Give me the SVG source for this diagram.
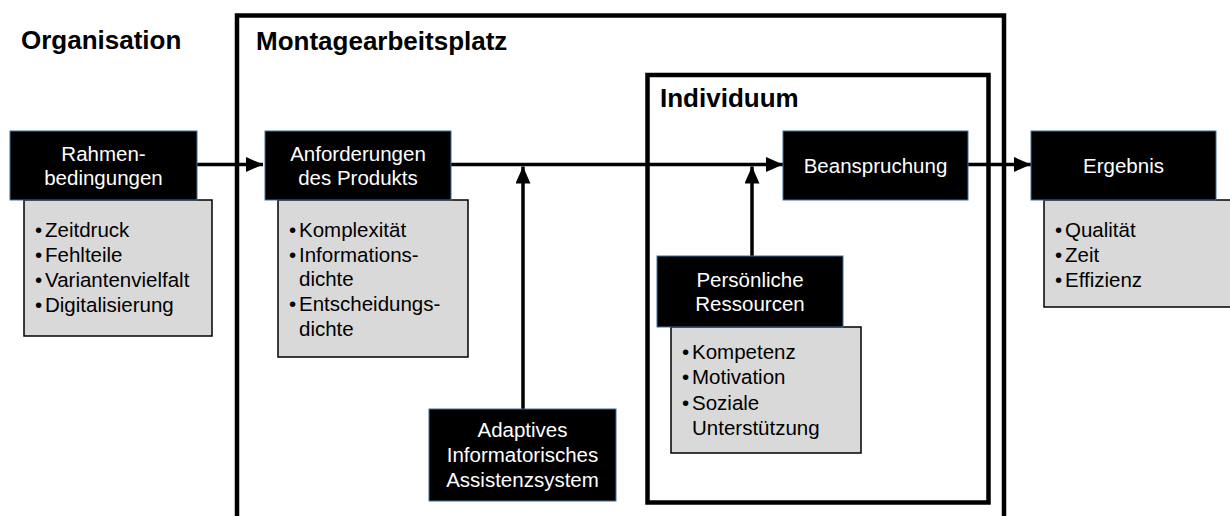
<svg xmlns="http://www.w3.org/2000/svg" width="1230" height="516" viewBox="0 0 1230 516">
<style>
text{font-family:"Liberation Sans",Arial,sans-serif;}
.title{font-size:26px;font-weight:bold;fill:#000;}
.frame{fill:none;stroke:#000;stroke-width:4.5;}
.hd{fill:#000;stroke:#41719C;stroke-width:1;}
.hdt{font-size:20.5px;fill:#fff;text-anchor:middle;}
.gr{fill:#d9d9d9;stroke:#000;stroke-width:1.5;}
.bt{font-size:20.5px;fill:#000;}
.con{fill:none;stroke:#000;stroke-width:3.5;marker-end:url(#ah);}
</style>
<defs>
<marker id="ah" viewBox="0 0 17 15" refX="17" refY="7.5" markerWidth="17" markerHeight="15" markerUnits="userSpaceOnUse" orient="auto">
<path d="M0,0 L17,7.5 L0,15 z" fill="#000"/>
</marker>
</defs>
<rect width="1230" height="516" fill="#fff"/>

<g id="organisation">
<text class="title" x="21" y="49">Organisation</text>
</g>

<g id="montagearbeitsplatz">
<rect class="frame" x="237" y="15.5" width="767" height="520"/>
<text class="title" x="256" y="50">Montagearbeitsplatz</text>
</g>

<g id="individuum">
<rect class="frame" x="647.5" y="75" width="341" height="427.5"/>
<text class="title" x="660" y="107">Individuum</text>
</g>

<g id="connectors">
<path class="con" d="M197,164.5 H263"/>
<path class="con" d="M451,164.5 H783"/>
<path class="con" d="M968,164.5 H1031"/>
<path class="con" d="M523,409 V166.5"/>
<path class="con" d="M752,256 V166.5"/>
</g>

<g id="rahmenbedingungen">
<rect class="gr" x="24" y="200" width="188" height="136"/>
<rect class="hd" x="10" y="131" width="187" height="69"/>
<text class="hdt" x="103.5" y="160.5">Rahmen-</text>
<text class="hdt" x="103.5" y="184.5">bedingungen</text>
<text class="bt" x="35" y="236.5">•</text>
<text class="bt" x="45" y="236.5">Zeitdruck</text>
<text class="bt" x="35" y="261.5">•</text>
<text class="bt" x="45" y="261.5">Fehlteile</text>
<text class="bt" x="35" y="287">•</text>
<text class="bt" x="45" y="287">Variantenvielfalt</text>
<text class="bt" x="35" y="312">•</text>
<text class="bt" x="45" y="312">Digitalisierung</text>
</g>

<g id="anforderungen">
<rect class="gr" x="278" y="200" width="190" height="157"/>
<rect class="hd" x="265" y="131" width="186" height="69"/>
<text class="hdt" x="358" y="160.5">Anforderungen</text>
<text class="hdt" x="358" y="184.5">des Produkts</text>
<text class="bt" x="289" y="236.5">•</text>
<text class="bt" x="299" y="236.5">Komplexität</text>
<text class="bt" x="289" y="261.5">•</text>
<text class="bt" x="299" y="261.5">Informations-</text>
<text class="bt" x="299" y="286">dichte</text>
<text class="bt" x="289" y="311">•</text>
<text class="bt" x="299" y="311">Entscheidungs-</text>
<text class="bt" x="299" y="335.5">dichte</text>
</g>

<g id="assistenzsystem">
<rect class="hd" x="429" y="409" width="187" height="92"/>
<text class="hdt" x="522.5" y="437">Adaptives</text>
<text class="hdt" x="522.5" y="462">Informatorisches</text>
<text class="hdt" x="522.5" y="487">Assistenzsystem</text>
</g>

<g id="beanspruchung">
<rect class="hd" x="783" y="131" width="185" height="69"/>
<text class="hdt" x="875.5" y="172.5">Beanspruchung</text>
</g>

<g id="ressourcen">
<rect class="gr" x="671" y="327" width="190" height="126"/>
<rect class="hd" x="657" y="256" width="186" height="71"/>
<text class="hdt" x="750" y="287">Persönliche</text>
<text class="hdt" x="750" y="311">Ressourcen</text>
<text class="bt" x="682" y="359">•</text>
<text class="bt" x="692" y="359">Kompetenz</text>
<text class="bt" x="682" y="384">•</text>
<text class="bt" x="692" y="384">Motivation</text>
<text class="bt" x="682" y="409.5">•</text>
<text class="bt" x="692" y="409.5">Soziale</text>
<text class="bt" x="692" y="434.5">Unterstützung</text>
</g>

<g id="ergebnis">
<rect class="gr" x="1044" y="200" width="192" height="107"/>
<rect class="hd" x="1031" y="131" width="185" height="69"/>
<text class="hdt" x="1123.5" y="172.5">Ergebnis</text>
<text class="bt" x="1055" y="236.5">•</text>
<text class="bt" x="1065" y="236.5">Qualität</text>
<text class="bt" x="1055" y="261.5">•</text>
<text class="bt" x="1065" y="261.5">Zeit</text>
<text class="bt" x="1055" y="286.5">•</text>
<text class="bt" x="1065" y="286.5">Effizienz</text>
</g>
</svg>
